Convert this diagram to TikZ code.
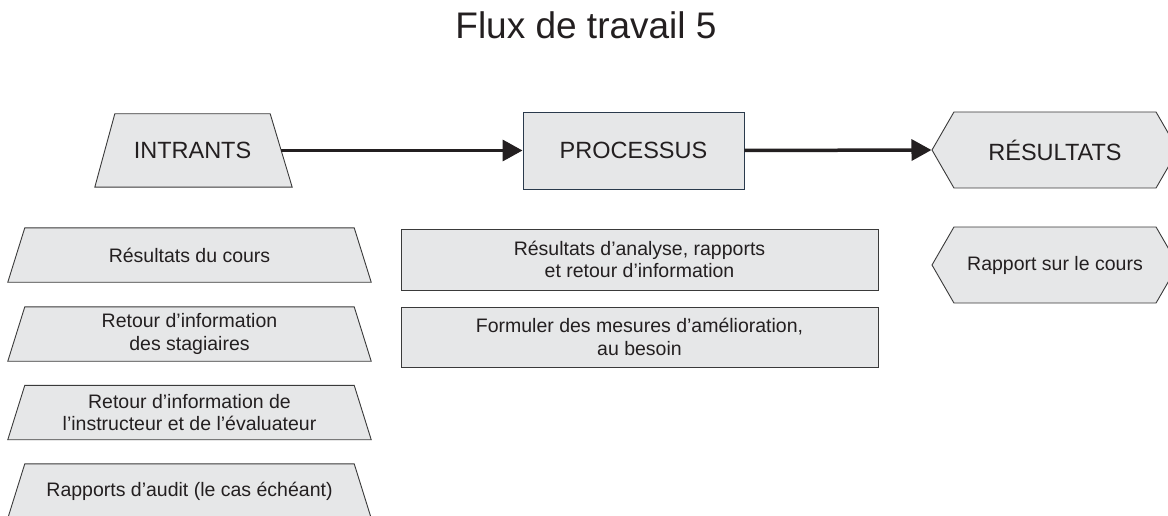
\documentclass[tikz,border=0pt]{standalone}
\usepackage{fontspec}
\setmainfont{Liberation Sans}
\usetikzlibrary{shapes.symbols,arrows.meta,backgrounds}
\definecolor{boxfill}{HTML}{E6E7E8}
\definecolor{ink}{HTML}{231F20}
\definecolor{edge}{HTML}{3A3A3A}
\definecolor{procedge}{HTML}{2A3A4C}
\tikzset{
  outline/.style={draw=edge, fill=boxfill, line width=0.9pt},
  label/.style={text=ink, inner sep=0pt, align=center},
  box/.style={outline, label},
  small/.style={font=\fontsize{19.5}{22.5}\selectfont},
  big/.style={font=\fontsize{23.5}{26}\selectfont},
  % text area of an input: the narrow top side of the trapezoid
  inputbox/.style={label, rectangle, minimum width=329pt,
                   minimum height=54pt, small},
  procbox/.style={box, rectangle, minimum width=477pt, small},
  outbox/.style={box, signal, signal to=west and east,
                 signal pointer angle=120, minimum width=246pt,
                 minimum height=76pt},
  flow/.style={draw=ink, line width=3.5pt,
               -{Triangle[length=20pt,width=21pt]}},
}
% trapezoid under a node: top side = node's top, bottom side wider
\newcommand\trapunder[3]{%
  \begin{scope}[on background layer]
    \path[outline] (#1.north west) -- (#1.north east)
      -- ([xshift=#3]#1.south east) -- ([xshift=-#2]#1.south west) -- cycle;
  \end{scope}}
\begin{document}
\begin{tikzpicture}[x=1pt, y=-1pt]
\useasboundingbox (0,0) rectangle (1168,516);

% title
\node[text=ink, font=\fontsize{37}{40}\selectfont, anchor=base]
  (title) at (586,39) {Flux de travail 5};

% column headings
\node[label, rectangle, minimum width=155pt, minimum height=73pt, big]
  (in) at (192.5,150.5) {INTRANTS};
\trapunder{in}{20pt}{22pt}
\coordinate (inE) at ([xshift=11pt]in.east);
\node[box, rectangle, draw=procedge, minimum width=221pt,
      minimum height=77pt, big] (proc) at (633.5,150.5) {PROCESSUS};
\node[outbox, big] (out) at (1055,150) {RÉSULTATS};

% main flow
\draw[flow] (inE) -- (proc.west);
\draw[flow] (proc.east) -- (out.west);

% inputs
\node[inputbox] (in1) at (189.5,255) {Résultats du cours};
\node[inputbox] (in2) at (189.5,334) {Retour d’information\\des stagiaires};
\node[inputbox] (in3) at (189.5,412.5) {Retour d’information de\\l’instructeur et de l’évaluateur};
\node[inputbox] (in4) at (189.5,491) {Rapports d’audit (le cas échéant)};
\trapunder{in1}{17pt}{17pt}
\trapunder{in2}{17pt}{17pt}
\trapunder{in3}{17pt}{17pt}
\trapunder{in4}{17pt}{17pt}

% process steps
\node[procbox, minimum height=61pt] (p1) at (639.5,259.5)
  {Résultats d’analyse, rapports\\et retour d’information};
\node[procbox, minimum height=60pt] (p2) at (639.5,337)
  {Formuler des mesures d’amélioration,\\au besoin};

% outputs
\node[outbox, small] (o1) at (1055,265) {Rapport sur le cours};
\end{tikzpicture}
\end{document}
